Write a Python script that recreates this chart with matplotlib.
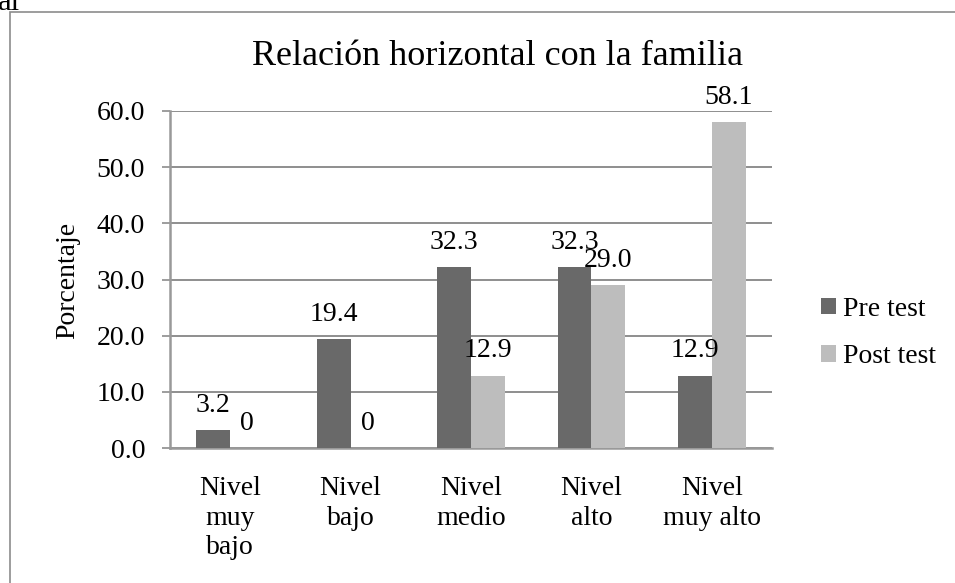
import matplotlib
matplotlib.use("Agg")
import matplotlib.pyplot as plt
import numpy as np
from matplotlib.patches import Rectangle

categories = ["Nivel\nmuy\nbajo", "Nivel\nbajo", "Nivel\nmedio", "Nivel\nalto", "Nivel\nmuy alto"]
pre_test = [3.2, 19.4, 32.3, 32.3, 12.9]
post_test = [0, 0, 12.9, 29.0, 58.1]
pre_labels = ["3.2", "19.4", "32.3", "32.3", "12.9"]
post_labels = ["0", "0", "12.9", "29.0", "58.1"]
yticks = [0, 10, 20, 30, 40, 50, 60]

plt.rcParams['font.family'] = ['Liberation Serif', 'DejaVu Serif']

W, H = 955, 583
fig = plt.figure(figsize=(W/100, H/100), dpi=100)

# page border (continues past right and bottom edges)
fig.patches.append(Rectangle((10/W, -0.1), 1.2, 1.1 - 12/H, transform=fig.transFigure,
                             fill=False, edgecolor='#8c8c8c', linewidth=1.2))
fig.text(-2/W, 1 + 12/H, "al", fontsize=22, va='top', ha='left', color='black')

ax = fig.add_axes([170/W, 1 - 448/H, (772-170)/W, (448-111)/H])
x = np.arange(len(categories))
bw = 0.28
ax.bar(x - bw/2, pre_test, bw, color='#696969', label='Pre test', zorder=3)
ax.bar(x + bw/2, post_test, bw, color='#bdbdbd', label='Post test', zorder=3)

fs = 20
for i in range(len(categories)):
    ax.annotate(pre_labels[i], (x[i] - bw/2, pre_test[i]), xytext=(0, 13), textcoords='offset points',
                ha='center', va='baseline', fontsize=fs)
    ax.annotate(post_labels[i], (x[i] + bw/2, post_test[i]), xytext=(0, 13), textcoords='offset points',
                ha='center', va='baseline', fontsize=fs)

ax.set_xlim(-0.5, len(categories) - 0.5)
ax.set_ylim(0, 60)
ax.set_yticks(yticks)
ax.set_yticklabels([f"{v:.1f}" for v in yticks], fontsize=fs)
ax.set_xticks(x)
ax.set_xticklabels(categories, fontsize=fs, linespacing=1.25, va='top')
ax.tick_params(axis='x', length=0, pad=20)
ax.tick_params(axis='y', length=6, direction='out', color='#8c8c8c', width=1.2, pad=12)
ax.yaxis.grid(True, color='#868686', linewidth=1.3, zorder=0)
for s in ['top', 'right']:
    ax.spines[s].set_visible(False)
for s in ['left', 'bottom']:
    ax.spines[s].set_color('#999999')
    ax.spines[s].set_linewidth(1.8)

fig.text(68/W, 1 - 280/H, "Porcentaje", fontsize=fs, rotation=90, ha='center', va='center')
fig.text(497/W, 1 - 65/H, "Relación horizontal con la familia", fontsize=26, ha='center', va='baseline')

handles, labels = ax.get_legend_handles_labels()
fig.legend(handles, labels, loc='center left', bbox_to_anchor=(821/W, 1 - 333/H), frameon=False,
           fontsize=fs, handlelength=0.55, handleheight=0.55, handletextpad=0.25,
           labelspacing=0.8, borderpad=0, borderaxespad=0)

fig.savefig("out.png", dpi=100)
